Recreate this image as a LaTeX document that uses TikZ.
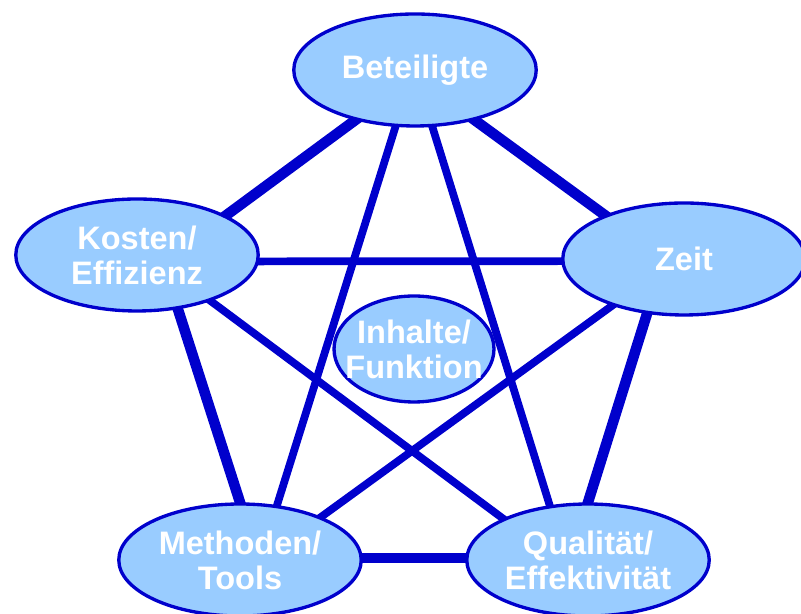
\documentclass[tikz,border=0pt]{standalone}
\usepackage{fontspec}
\setsansfont{Liberation Sans}
\usepackage{tikz}
\usetikzlibrary{shapes.geometric,backgrounds}
\definecolor{linkblue}{HTML}{0000CC}
\definecolor{topicfill}{HTML}{99CCFF}

\begin{document}
\begin{tikzpicture}[x=0.02cm, y=0.02cm,
  topic/.style = {shape = ellipse, draw = linkblue, line width = 1.9pt, fill = topicfill,
    inner sep = 0pt, minimum width = 4.85cm, minimum height = 2.24cm, align = center,
    text = white, font = \sffamily\bfseries\fontsize{18.5}{20}\selectfont},
  thicklink/.style = {draw = linkblue, line width = 6pt, shorten <= -4pt, shorten >= -4pt},
  thinlink/.style = {draw = linkblue, line width = 4.4pt, shorten <= -4pt, shorten >= -4pt}]
\useasboundingbox (0,0) rectangle (801,614);

\node[topic] (bet)  at (415,544) {Beteiligte};
\node[topic] (kos)  at (137,359) {Kosten/\\Effizienz};
\node[topic] (zeit) at (684,355) {Zeit};
\node[topic, minimum width = 3.2cm, minimum height = 2.12cm, inner xsep = -10pt] (inh) at (414,265) {Inhalte/\\Funktion};
\node[topic] (meth) at (240,54)  {Methoden/\\Tools};
\node[topic] (qual) at (588,54)  {Qualit\"at/\\Effektivit\"at};

\begin{scope}[on background layer]
% outer ring
\draw[thicklink] (bet.220)  -- (kos.24);
\draw[thicklink] (bet.320)  -- (zeit.151);
\draw[thicklink] (kos.-53)  -- (meth.90);
\draw[thicklink] (zeit.236) -- (qual.90);
\draw[thicklink] (meth.1)   -- (qual.179);
% inner star
\draw[thinlink] (kos.-3)   -- (zeit.181);
\draw[thinlink] (bet.251)  -- (meth.56);
\draw[thinlink] (bet.-73)  -- (qual.125);
\draw[thinlink] (kos.-32)  -- (qual.154);
\draw[thinlink] (zeit.213) -- (meth.28);
\end{scope}
\end{tikzpicture}
\end{document}
